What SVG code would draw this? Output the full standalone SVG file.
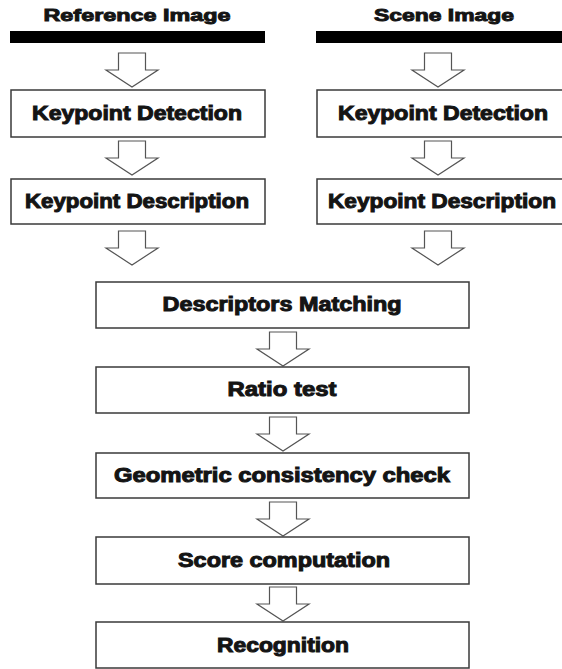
<svg xmlns="http://www.w3.org/2000/svg" width="562" height="669" viewBox="0 0 562 669">
  <style>
    .box { fill: #ffffff; stroke: #3a3a3a; stroke-width: 1.5; }
    .arrow { fill: #ffffff; stroke: #555555; stroke-width: 1.2; stroke-linejoin: miter; }
    .bar { fill: #000000; }
    .label { font-family: "Liberation Sans", Arial, sans-serif; font-weight: bold; font-size: 20px; fill: #141414; stroke: #141414; stroke-width: 1; text-anchor: middle; }
    .title { font-family: "Liberation Sans", Arial, sans-serif; font-weight: bold; font-size: 16.5px; fill: #141414; stroke: #141414; stroke-width: 0.9; text-anchor: middle; }
  </style>
  <defs>
    <!-- hollow block arrow pointing down, origin at stem top centre -->
    <path id="blk" d="M -13.5 0 H 13.5 V 17 H 26 L 0 34 L -26 17 H -13.5 Z"/>
  </defs>
  <rect width="562" height="669" fill="#ffffff"/>

  <!-- column headers -->
  <g id="ref-header">
    <text class="title" x="137" y="21" textLength="187" lengthAdjust="spacingAndGlyphs">Reference Image</text>
    <rect class="bar" x="10" y="31" width="255" height="12"/>
  </g>
  <g id="scene-header">
    <text class="title" x="444" y="21" textLength="140" lengthAdjust="spacingAndGlyphs">Scene Image</text>
    <rect class="bar" x="316" y="31" width="246" height="12"/>
  </g>

  <!-- connectors -->
  <g id="connectors">
    <use href="#blk" class="arrow" transform="translate(132,53)"/>
    <use href="#blk" class="arrow" transform="translate(132,141)"/>
    <use href="#blk" class="arrow" transform="translate(132,231)"/>
    <use href="#blk" class="arrow" transform="translate(438,53)"/>
    <use href="#blk" class="arrow" transform="translate(438,141)"/>
    <use href="#blk" class="arrow" transform="translate(438,231)"/>
    <use href="#blk" class="arrow" transform="translate(283,332)"/>
    <use href="#blk" class="arrow" transform="translate(283,417)"/>
    <use href="#blk" class="arrow" transform="translate(283,502)"/>
    <use href="#blk" class="arrow" transform="translate(283,587)"/>
  </g>

  <!-- reference image column -->
  <g id="ref-detection">
    <rect class="box" x="11" y="90" width="254" height="47"/>
    <text class="label" x="137" y="120" textLength="210" lengthAdjust="spacingAndGlyphs">Keypoint Detection</text>
  </g>
  <g id="ref-description">
    <rect class="box" x="11" y="179" width="254" height="45"/>
    <text class="label" x="137" y="208" textLength="224" lengthAdjust="spacingAndGlyphs">Keypoint Description</text>
  </g>

  <!-- scene image column -->
  <g id="scene-detection">
    <rect class="box" x="317" y="90" width="250" height="47"/>
    <text class="label" x="443" y="120" textLength="210" lengthAdjust="spacingAndGlyphs">Keypoint Detection</text>
  </g>
  <g id="scene-description">
    <rect class="box" x="317" y="179" width="250" height="45"/>
    <text class="label" x="442" y="208" textLength="228" lengthAdjust="spacingAndGlyphs">Keypoint Description</text>
  </g>

  <!-- shared pipeline -->
  <g id="matching">
    <rect class="box" x="96" y="282" width="373" height="46"/>
    <text class="label" x="282" y="311" textLength="239" lengthAdjust="spacingAndGlyphs">Descriptors Matching</text>
  </g>
  <g id="ratio-test">
    <rect class="box" x="96" y="367" width="373" height="46"/>
    <text class="label" x="282" y="396" textLength="109" lengthAdjust="spacingAndGlyphs">Ratio test</text>
  </g>
  <g id="geometric-check">
    <rect class="box" x="96" y="453" width="373" height="45"/>
    <text class="label" x="282" y="482" textLength="336" lengthAdjust="spacingAndGlyphs">Geometric consistency check</text>
  </g>
  <g id="score">
    <rect class="box" x="96" y="537" width="373" height="47"/>
    <text class="label" x="284" y="567" textLength="212" lengthAdjust="spacingAndGlyphs">Score computation</text>
  </g>
  <g id="recognition">
    <rect class="box" x="96" y="622" width="373" height="46"/>
    <text class="label" x="283" y="652" textLength="132" lengthAdjust="spacingAndGlyphs">Recognition</text>
  </g>
</svg>
